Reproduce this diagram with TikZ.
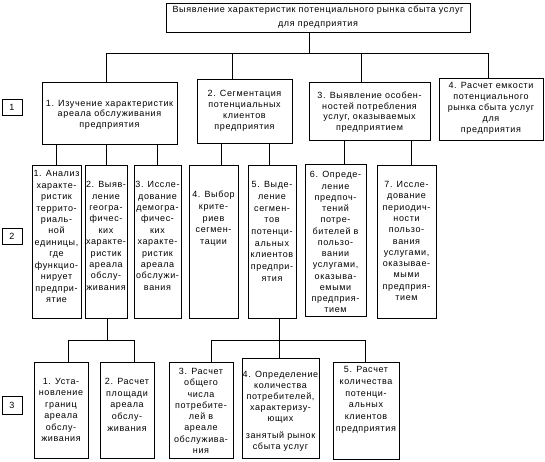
\documentclass[tikz,border=0pt]{standalone}
\usepackage{fontspec}
\setmainfont{Liberation Sans}[LetterSpace=7]
\newcommand\lnx[1]{\hbox to\hsize{\hss#1\hss}}
\newcommand\gapx[1]{\vskip#1pt}
\newcommand\bbox[8]{%
 \node[bx] (#1) at ({(#2+#4)/2},{(#3+#5)/2}) {\vbox to \dimexpr#5pt-#3pt\relax{\hsize=\dimexpr#4pt-#2pt\relax\fontsize{9}{#7}\selectfont\vskip\dimexpr#6pt-#3pt-3.5pt\relax #8\vss}};}
\tikzset{
  bx/.style={draw, line width=1pt, inner sep=0pt, outer sep=0pt},
  lab/.style={bx, minimum width=20pt, font=\fontsize{9}{10}\selectfont},
  cn/.style={line width=1pt}
}
\begin{document}
\begin{tikzpicture}[x=1pt,y=-1pt]
\fill[white] (0,0) rectangle (545,461);
\useasboundingbox (0,0) rectangle (545,461);
% top
\bbox{top}{166}{3}{470}{32}{9.5}{13.5}{\lnx{Выявление характеристик потенциального рынка сбыта услуг}\lnx{для предприятия}}
% level 1
\bbox{l11}{42}{82}{177}{144}{103.5}{10.5}{\lnx{1. Изучение характеристик}\lnx{ареала обслуживания}\lnx{предприятия}}
\bbox{l12}{197}{79}{292}{143}{93.3}{11.1}{\lnx{2. Сегментация}\lnx{потенциальных}\lnx{клиентов}\lnx{предприятия}}
\bbox{l13}{309}{82}{430}{140}{95.7}{10.4}{\lnx{3. Выявление особен-}\lnx{ностей потребления}\lnx{услуг, оказываемых}\lnx{предприятием}}
\bbox{l14}{439}{78}{543}{140}{85.7}{11}{\lnx{4. Расчет емкости}\lnx{потенциального}\lnx{рынка сбыта услуг}\lnx{для}\lnx{предприятия}}
% level 2
\bbox{l21}{32}{165}{81}{318}{174}{11.45}{\lnx{1. Анализ}\lnx{характе-}\lnx{ристик}\lnx{террито-}\lnx{риаль-}\lnx{ной}\lnx{единицы,}\lnx{где}\lnx{функцио-}\lnx{нирует}\lnx{предпри-}\lnx{ятие}}
\bbox{l22}{85}{165}{127}{318}{185}{11.4}{\lnx{2. Выяв-}\lnx{ление}\lnx{геогра-}\lnx{фичес-}\lnx{ких}\lnx{характе-}\lnx{ристик}\lnx{ареала}\lnx{обслу-}\lnx{живания}}
\bbox{l23}{134}{165}{181}{318}{185}{11.4}{\lnx{3. Иссле-}\lnx{дование}\lnx{демогра-}\lnx{фичес-}\lnx{ких}\lnx{характе-}\lnx{ристик}\lnx{ареала}\lnx{обслужи-}\lnx{вания}}
\bbox{l24}{189}{165}{238}{318}{194.3}{11.85}{\lnx{4. Выбор}\lnx{крите-}\lnx{риев}\lnx{сегмен-}\lnx{тации}}
\bbox{l25}{248}{165}{296}{318}{185}{11.7}{\lnx{5. Выде-}\lnx{ление}\lnx{сегмен-}\lnx{тов}\lnx{потенци-}\lnx{альных}\lnx{клиентов}\lnx{предпри-}\lnx{ятия}}
\bbox{l26}{305}{164}{366}{316}{175}{11.25}{\lnx{6. Опреде-}\lnx{ление}\lnx{предпоч-}\lnx{тений}\lnx{потре-}\lnx{бителей в}\lnx{пользо-}\lnx{вании}\lnx{услугами,}\lnx{оказыва-}\lnx{емыми}\lnx{предприя-}\lnx{тием}}
\bbox{l27}{377}{165}{436}{318}{185}{11.27}{\lnx{7. Иссле-}\lnx{дование}\lnx{периодич-}\lnx{ности}\lnx{пользо-}\lnx{вания}\lnx{услугами,}\lnx{оказывае-}\lnx{мыми}\lnx{предприя-}\lnx{тием}}
% level 3
\bbox{l31}{34}{362}{88}{458}{381.7}{11.5}{\lnx{1. Уста-}\lnx{новление}\lnx{границ}\lnx{ареала}\lnx{обслу-}\lnx{живания}}
\bbox{l32}{100}{362}{154}{458}{381.7}{11.7}{\lnx{2. Расчет}\lnx{площади}\lnx{ареала}\lnx{обслу-}\lnx{живания}}
\bbox{l33}{169}{362}{233}{458}{371.7}{11.3}{\lnx{3. Расчет}\lnx{общего}\lnx{числа}\lnx{потребите-}\lnx{лей в}\lnx{ареале}\lnx{обслужива-}\lnx{ния}}
\bbox{l34}{242}{358}{319}{458}{374.3}{11.2}{\lnx{4. Определение}\lnx{количества}\lnx{потребителей,}\lnx{характеризу-}\lnx{ющих}\gapx{5}\lnx{занятый рынок}\lnx{сбыта услуг}}
\bbox{l35}{333}{362}{399}{459}{370}{11.7}{\lnx{5. Расчет}\lnx{количества}\lnx{потенци-}\lnx{альных}\lnx{клиентов}\lnx{предприятия}}
% level labels
\node[lab, minimum height=16pt] (lab1) at (12,107) {1};
\node[lab, minimum height=16pt] (lab2) at (12,236) {2};
\node[lab, minimum height=18pt] (lab3) at (12,405) {3};
% connectors level 0 -> 1
\coordinate (bus1) at (0,53);
\coordinate (bus3) at (0,340);
\draw[cn] ([xshift=-9pt]top.south) -- ([xshift=-9pt]top.south |- bus1);
\draw[cn] ([xshift=-3pt]l11.north) |- ([xshift=-9pt]top.south |- bus1);
\draw[cn] ([xshift=-12pt]l12.north) |- ([xshift=-9pt]top.south |- bus1);
\draw[cn] ([xshift=-8.5pt]l13.north) |- ([xshift=-9pt]top.south |- bus1);
\draw[cn] ([xshift=-2.5pt]l14.north) |- ([xshift=-9pt]top.south |- bus1);
% level 1 -> 2
\draw[cn] (l21.north) -- (l21.north |- l11.south);
\draw[cn] (l22.north) -- (l22.north |- l11.south);
\draw[cn] (l23.north) -- (l23.north |- l11.south);
\draw[cn] ([xshift=7.5pt]l24.north) -- ([xshift=7.5pt]l24.north |- l12.south);
\draw[cn] ([xshift=-3pt]l25.north) -- ([xshift=-3pt]l25.north |- l12.south);
\draw[cn] ([xshift=9pt]l26.north) -- ([xshift=9pt]l26.north |- l13.south);
\draw[cn] ([xshift=5pt]l27.north) -- ([xshift=5pt]l27.north |- l13.south);
% level 2 -> 3
\draw[cn] ([xshift=1pt]l22.south) -- ([xshift=1pt]l22.south |- bus3);
\draw[cn] ([xshift=7pt]l31.north) |- ([xshift=1pt]l22.south |- bus3);
\draw[cn] ([xshift=7pt]l32.north) |- ([xshift=1pt]l22.south |- bus3);
\draw[cn] ([xshift=7pt]l25.south) -- ([xshift=7pt]l25.south |- bus3);
\draw[cn] ([xshift=10pt]l33.north) |- ([xshift=7pt]l25.south |- bus3);
\draw[cn] ([xshift=-1.5pt]l34.north) |- ([xshift=7pt]l25.south |- bus3);
\draw[cn] ([xshift=-1pt]l35.north) |- ([xshift=7pt]l25.south |- bus3);
\end{tikzpicture}
\end{document}
